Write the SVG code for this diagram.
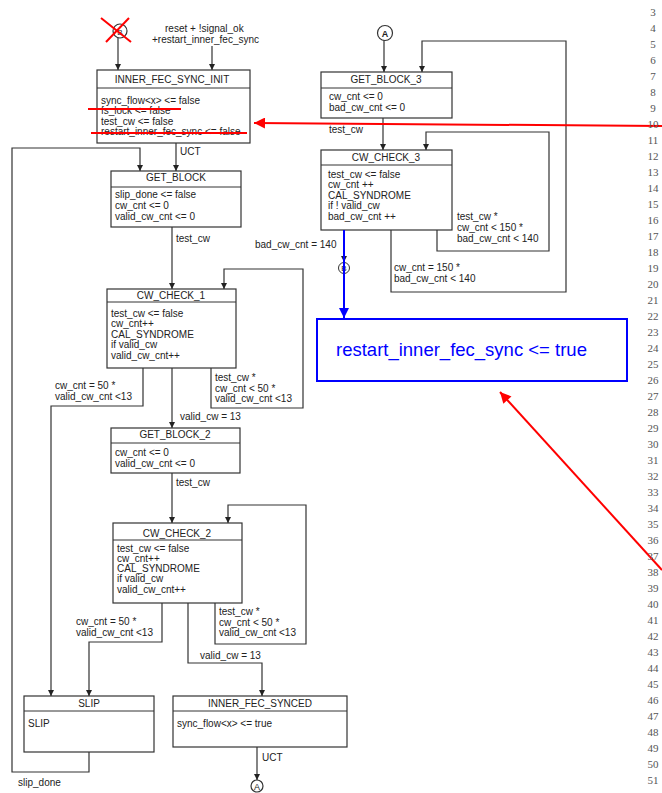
<svg xmlns="http://www.w3.org/2000/svg" width="662" height="793" viewBox="0 0 662 793">
<style>
  .box{fill:#fff;stroke:#333;stroke-width:1.2}
  .div{stroke:#333;stroke-width:1}
  .t{font-family:"Liberation Sans",Arial,sans-serif;font-size:10px;fill:#222}
  .c{text-anchor:middle}
  .w{fill:none;stroke:#333;stroke-width:1.2}
  .num{font-family:"Liberation Serif","Times New Roman",serif;font-size:11px;fill:#555;text-anchor:middle}
  .red{fill:none;stroke:#f00;stroke-width:2}
  .blue{fill:none;stroke:#00f;stroke-width:2}
</style>
<defs>
  <marker id="ah" viewBox="0 0 10 10" refX="10" refY="5" markerWidth="6" markerHeight="7" markerUnits="userSpaceOnUse" orient="auto">
    <path d="M0,0 L10,5 L0,10 z" fill="#222"/>
  </marker>
  <marker id="ahb" viewBox="0 0 10 10" refX="10" refY="5" markerWidth="12" markerHeight="10" markerUnits="userSpaceOnUse" orient="auto">
    <path d="M0,0 L10,5 L0,10 z" fill="#00f"/>
  </marker>
  <marker id="ahr" viewBox="0 0 10 10" refX="10" refY="5" markerWidth="16" markerHeight="11" markerUnits="userSpaceOnUse" orient="auto">
    <path d="M0,0 L10,5 L0,10 z" fill="#f00"/>
  </marker>
</defs>
<rect width="662" height="793" fill="#fff"/>

<g id="connectors">
  <path class="w" d="M118,38 V70" marker-end="url(#ah)"/>
  <path class="w" d="M212,46 V70" marker-end="url(#ah)"/>
  <path class="w" d="M176,143 V171" marker-end="url(#ah)"/>
  <path class="w" d="M89,752 V772 H12 V148 H140 V171" marker-end="url(#ah)"/>
  <path class="w" d="M172,227 V289" marker-end="url(#ah)"/>
  <path class="w" d="M211,368 V408 H303 V269 H224 V289" marker-end="url(#ah)"/>
  <path class="w" d="M143,368 V406 H51 V696" marker-end="url(#ah)"/>
  <path class="w" d="M172,368 V428" marker-end="url(#ah)"/>
  <path class="w" d="M172,473 V523" marker-end="url(#ah)"/>
  <path class="w" d="M215,603 V644 H306 V505 H228 V523" marker-end="url(#ah)"/>
  <path class="w" d="M162,603 V642 H89 V696" marker-end="url(#ah)"/>
  <path class="w" d="M188,603 V663 H262 V696" marker-end="url(#ah)"/>
  <path class="w" d="M257,747 V780" marker-end="url(#ah)"/>
  <path class="w" d="M384,40 V72" marker-end="url(#ah)"/>
  <path class="w" d="M391,230 V292 H566 V41 H422 V72" marker-end="url(#ah)"/>
  <path class="w" d="M383,118 V150" marker-end="url(#ah)"/>
  <path class="w" d="M437,230 V251 H549 V132 H426 V150" marker-end="url(#ah)"/>
  <path class="w" d="M344,230 V262" marker-end="url(#ah)"/>

  <text class="t" x="165" y="32">reset + !signal_ok</text>
  <text class="t" x="152" y="43">+restart_inner_fec_sync</text>
  <text class="t" x="180" y="155">UCT</text>
  <text class="t" x="176" y="242">test_cw</text>
  <text class="t" x="215" y="381">test_cw *</text>
  <text class="t" x="215" y="391.5">cw_cnt &lt; 50 *</text>
  <text class="t" x="215" y="402">valid_cw_cnt &lt;13</text>
  <text class="t" x="55" y="389">cw_cnt = 50 *</text>
  <text class="t" x="55" y="400">valid_cw_cnt &lt;13</text>
  <text class="t" x="180" y="420">valid_cw = 13</text>
  <text class="t" x="176" y="486">test_cw</text>
  <text class="t" x="219" y="615">test_cw *</text>
  <text class="t" x="219" y="625.5">cw_cnt &lt; 50 *</text>
  <text class="t" x="219" y="636">valid_cw_cnt &lt;13</text>
  <text class="t" x="76" y="625">cw_cnt = 50 *</text>
  <text class="t" x="76" y="636">valid_cw_cnt &lt;13</text>
  <text class="t" x="200" y="659">valid_cw = 13</text>
  <text class="t" x="262" y="761">UCT</text>
  <text class="t" x="18" y="786">slip_done</text>
  <text class="t" x="329" y="133">test_cw</text>
  <text class="t" x="457" y="220">test_cw *</text>
  <text class="t" x="457" y="231">cw_cnt &lt; 150 *</text>
  <text class="t" x="457" y="242">bad_cw_cnt &lt; 140</text>
  <text class="t" x="394" y="271">cw_cnt = 150 *</text>
  <text class="t" x="394" y="282">bad_cw_cnt &lt; 140</text>
  <text class="t" x="255" y="248">bad_cw_cnt = 140</text>
</g>

<g id="conn_start">
  <circle cx="120" cy="31" r="7" fill="#fff" stroke="#333" stroke-width="1.2"/>
  <text class="t c" x="120" y="34.5" style="font-size:8px">B</text>
</g>
<g id="conn_A_top">
  <circle cx="385" cy="33" r="7.5" fill="#fff" stroke="#333" stroke-width="1.2"/>
  <text class="t c" x="385" y="36.5" style="font-size:9px;font-weight:bold">A</text>
</g>
<g id="conn_A_bottom">
  <circle cx="257" cy="786" r="6" fill="#fff" stroke="#333" stroke-width="1.2"/>
  <text class="t c" x="257" y="789.5" style="font-size:9px">A</text>
</g>
<g id="conn_B">
  <circle cx="344" cy="268" r="5.5" fill="#fff" stroke="#333" stroke-width="1"/>
  <text class="t c" x="344" y="271" style="font-size:8px">B</text>
</g>

<g id="INNER_FEC_SYNC_INIT">
  <rect class="box" x="97" y="70" width="153" height="73"/>
  <line class="div" x1="97" y1="88" x2="250" y2="88"/>
  <text class="t c" x="172" y="83">INNER_FEC_SYNC_INIT</text>
  <text class="t" x="101" y="103.5">sync_flow&lt;x&gt; &lt;= false</text>
  <text class="t" x="101" y="114">fs_lock &lt;= false</text>
  <text class="t" x="101" y="124.5">test_cw &lt;= false</text>
  <text class="t" x="101" y="135">restart_inner_fec_sync &lt;= false</text>
</g>
<g id="GET_BLOCK">
  <rect class="box" x="111" y="171" width="130" height="56"/>
  <line class="div" x1="111" y1="187" x2="241" y2="187"/>
  <text class="t c" x="176" y="181">GET_BLOCK</text>
  <text class="t" x="115" y="197.5">slip_done &lt;= false</text>
  <text class="t" x="115" y="208.5">cw_cnt &lt;= 0</text>
  <text class="t" x="115" y="219.5">valid_cw_cnt &lt;= 0</text>
</g>
<g id="CW_CHECK_1">
  <rect class="box" x="107" y="289" width="129" height="79"/>
  <line class="div" x1="107" y1="302" x2="236" y2="302"/>
  <text class="t c" x="171" y="299">CW_CHECK_1</text>
  <text class="t" x="111" y="316.5">test_cw &lt;= false</text>
  <text class="t" x="111" y="327">cw_cnt++</text>
  <text class="t" x="111" y="337.5">CAL_SYNDROME</text>
  <text class="t" x="111" y="348">if valid_cw</text>
  <text class="t" x="111" y="358.5">valid_cw_cnt++</text>
</g>
<g id="GET_BLOCK_2">
  <rect class="box" x="111" y="428" width="129" height="45"/>
  <line class="div" x1="111" y1="443" x2="240" y2="443"/>
  <text class="t c" x="175" y="438">GET_BLOCK_2</text>
  <text class="t" x="115" y="455.5">cw_cnt &lt;= 0</text>
  <text class="t" x="115" y="466.5">valid_cw_cnt &lt;= 0</text>
</g>
<g id="CW_CHECK_2">
  <rect class="box" x="113" y="523" width="129" height="80"/>
  <line class="div" x1="113" y1="540" x2="242" y2="540"/>
  <text class="t c" x="177" y="537">CW_CHECK_2</text>
  <text class="t" x="117" y="551.5">test_cw &lt;= false</text>
  <text class="t" x="117" y="561.5">cw_cnt++</text>
  <text class="t" x="117" y="571.5">CAL_SYNDROME</text>
  <text class="t" x="117" y="582">if valid_cw</text>
  <text class="t" x="117" y="592.5">valid_cw_cnt++</text>
</g>
<g id="SLIP">
  <rect class="box" x="24" y="696" width="130" height="56"/>
  <line class="div" x1="24" y1="711" x2="154" y2="711"/>
  <text class="t c" x="89" y="707">SLIP</text>
  <text class="t" x="28" y="727">SLIP</text>
</g>
<g id="INNER_FEC_SYNCED">
  <rect class="box" x="173" y="696" width="174" height="51"/>
  <line class="div" x1="173" y1="711" x2="347" y2="711"/>
  <text class="t c" x="260" y="707">INNER_FEC_SYNCED</text>
  <text class="t" x="177" y="727">sync_flow&lt;x&gt; &lt;= true</text>
</g>
<g id="GET_BLOCK_3">
  <rect class="box" x="321" y="72" width="131" height="46"/>
  <line class="div" x1="321" y1="88" x2="452" y2="88"/>
  <text class="t c" x="386" y="83">GET_BLOCK_3</text>
  <text class="t" x="329" y="100">cw_cnt &lt;= 0</text>
  <text class="t" x="329" y="110.5">bad_cw_cnt &lt;= 0</text>
</g>
<g id="CW_CHECK_3">
  <rect class="box" x="321" y="150" width="131" height="80"/>
  <line class="div" x1="321" y1="165" x2="452" y2="165"/>
  <text class="t c" x="386" y="161">CW_CHECK_3</text>
  <text class="t" x="328" y="177.5">test_cw &lt;= false</text>
  <text class="t" x="328" y="187.5">cw_cnt ++</text>
  <text class="t" x="328" y="198.5">CAL_SYNDROME</text>
  <text class="t" x="328" y="209">if ! valid_cw</text>
  <text class="t" x="328" y="219.5">bad_cw_cnt ++</text>
</g>

<g id="annotations">
  <line class="red" x1="101" y1="18" x2="131" y2="42"/>
  <line class="red" x1="129" y1="18" x2="106" y2="42"/>
  <line class="red" x1="88" y1="109" x2="181" y2="109"/>
  <line class="red" x1="91" y1="133" x2="247" y2="133"/>
  <path class="red" d="M662,126 L254,123" marker-end="url(#ahr)"/>
  <path class="red" d="M662,570 L500,392" marker-end="url(#ahr)"/>
  <path class="blue" d="M344,230 V318" marker-end="url(#ahb)"/>
</g>
<g id="restart_note">
  <rect x="317" y="319" width="310" height="62" fill="#fff" stroke="#00f" stroke-width="2"/>
  <text x="336" y="356" style="font-family:'Liberation Sans',Arial,sans-serif;font-size:18.5px;fill:#00f">restart_inner_fec_sync &lt;= true</text>
</g>

<g id="line_numbers">
  <text class="num" x="653" y="16">3</text>
  <text class="num" x="653" y="32">4</text>
  <text class="num" x="653" y="48">5</text>
  <text class="num" x="653" y="64">6</text>
  <text class="num" x="653" y="80">7</text>
  <text class="num" x="653" y="96">8</text>
  <text class="num" x="653" y="112">9</text>
  <text class="num" x="653" y="128">10</text>
  <text class="num" x="653" y="144">11</text>
  <text class="num" x="653" y="160">12</text>
  <text class="num" x="653" y="176">13</text>
  <text class="num" x="653" y="192">14</text>
  <text class="num" x="653" y="208">15</text>
  <text class="num" x="653" y="224">16</text>
  <text class="num" x="653" y="240">17</text>
  <text class="num" x="653" y="256">18</text>
  <text class="num" x="653" y="272">19</text>
  <text class="num" x="653" y="288">20</text>
  <text class="num" x="653" y="304">21</text>
  <text class="num" x="653" y="320">22</text>
  <text class="num" x="653" y="336">23</text>
  <text class="num" x="653" y="352">24</text>
  <text class="num" x="653" y="368">25</text>
  <text class="num" x="653" y="384">26</text>
  <text class="num" x="653" y="400">27</text>
  <text class="num" x="653" y="416">28</text>
  <text class="num" x="653" y="432">29</text>
  <text class="num" x="653" y="448">30</text>
  <text class="num" x="653" y="464">31</text>
  <text class="num" x="653" y="480">32</text>
  <text class="num" x="653" y="496">33</text>
  <text class="num" x="653" y="512">34</text>
  <text class="num" x="653" y="528">35</text>
  <text class="num" x="653" y="544">36</text>
  <text class="num" x="653" y="560">37</text>
  <text class="num" x="653" y="576">38</text>
  <text class="num" x="653" y="592">39</text>
  <text class="num" x="653" y="608">40</text>
  <text class="num" x="653" y="624">41</text>
  <text class="num" x="653" y="640">42</text>
  <text class="num" x="653" y="656">43</text>
  <text class="num" x="653" y="672">44</text>
  <text class="num" x="653" y="688">45</text>
  <text class="num" x="653" y="704">46</text>
  <text class="num" x="653" y="720">47</text>
  <text class="num" x="653" y="736">48</text>
  <text class="num" x="653" y="752">49</text>
  <text class="num" x="653" y="768">50</text>
  <text class="num" x="653" y="784">51</text>
</g>
</svg>
